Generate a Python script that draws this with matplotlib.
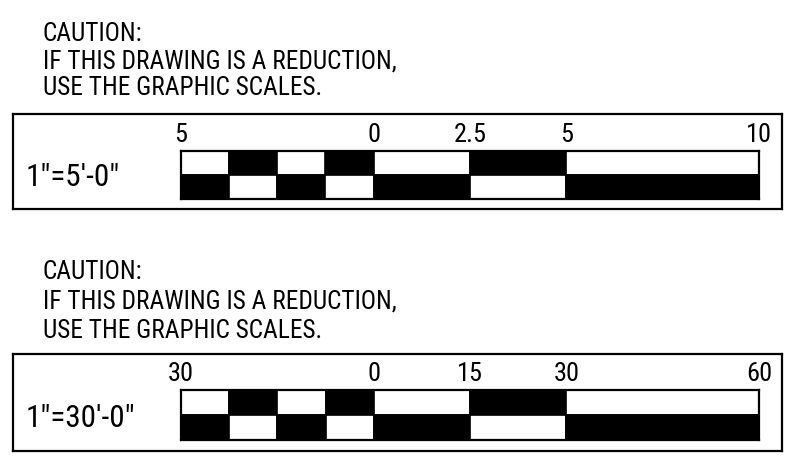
import matplotlib
matplotlib.use('Agg')
import matplotlib.pyplot as plt

W, H = 796, 462

FONT = ['Roboto Condensed', 'Liberation Sans', 'DejaVu Sans']
plt.rcParams['font.family'] = FONT

caution_lines = ["CAUTION:", "IF THIS DRAWING IS A REDUCTION,", "USE THE GRAPHIC SCALES."]
scale_names = ['1"=5\'-0"', '1"=30\'-0"']

# scale units along each bar
scale1_ticks = [-5, 0, 2.5, 5, 10]
scale1_labels = ["5", "0", "2.5", "5", "10"]
scale1_edges = [-5, -3.75, -2.5, -1.25, 0, 2.5, 5, 10]

scale2_ticks = [-30, 0, 15, 30, 60]
scale2_labels = ["30", "0", "15", "30", "60"]
scale2_edges = [-30, -22.5, -15, -7.5, 0, 15, 30, 60]

top_row = ['white', 'black', 'white', 'black', 'white', 'black', 'white']
bottom_row = ['black', 'white', 'black', 'white', 'black', 'white', 'black']


def px_rect(x0, y0, x1, y1):
    """pixel box (top-left origin) -> figure fraction rect"""
    return [x0 / W, 1 - y1 / H, (x1 - x0) / W, (y1 - y0) / H]


def draw_group(fig, text_base, box, bar, name, name_base, ticks, labels, edges):
    # caution note
    for line, yb in zip(caution_lines, text_base):
        fig.text(43 / W, 1 - yb / H, line, fontsize=18.3, va='baseline', ha='left')

    # outer frame
    frame = fig.add_axes(px_rect(*box))
    frame.set_xticks([])
    frame.set_yticks([])
    for s in frame.spines.values():
        s.set_linewidth(1.6)
    frame.text(13 / (box[2] - box[0]), (box[3] - name_base) / (box[3] - box[1]), name,
               transform=frame.transAxes, fontsize=22.5, va='baseline', ha='left')

    # checkered bar
    ax = fig.add_axes(px_rect(*bar))
    ax.set_facecolor('none')
    lefts = edges[:-1]
    widths = [b - a for a, b in zip(edges[:-1], edges[1:])]
    ax.barh(1.5, widths, left=lefts, height=1, color=top_row,
            edgecolor='black', linewidth=1.2, align='center')
    ax.barh(0.5, widths, left=lefts, height=1, color=bottom_row,
            edgecolor='black', linewidth=1.2, align='center')
    ax.set_xlim(edges[0], edges[-1])
    ax.set_ylim(0, 2)
    ax.set_yticks([])
    ax.xaxis.set_ticks_position('top')
    ax.set_xticks(ticks)
    ax.set_xticklabels(labels, fontsize=19)
    ax.tick_params(axis='x', length=0, pad=3)
    for s in ax.spines.values():
        s.set_linewidth(1.6)


fig = plt.figure(figsize=(W / 100, H / 100), dpi=100)
fig.patch.set_facecolor('white')

draw_group(fig, [41, 68, 95], (13, 114, 782, 209), (181, 151, 759, 199),
           scale_names[0], 186, scale1_ticks, scale1_labels, scale1_edges)
draw_group(fig, [279, 309, 338], (13, 354, 782, 451), (181, 390, 759, 440),
           scale_names[1], 427, scale2_ticks, scale2_labels, scale2_edges)

fig.savefig('out.png', dpi=100, facecolor='white')
